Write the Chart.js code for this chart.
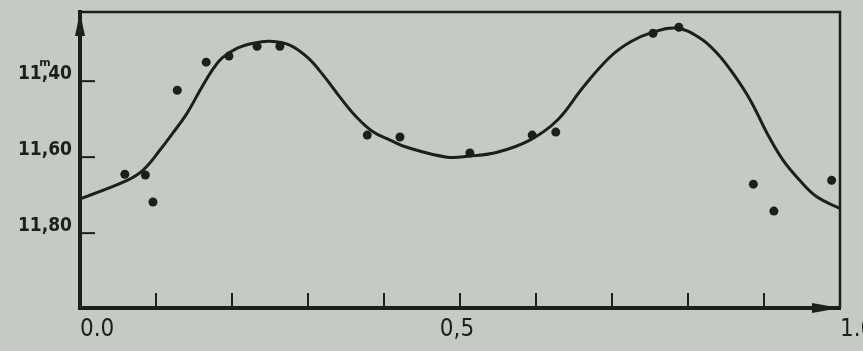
<!DOCTYPE html>
<html>
<head>
<meta charset="utf-8">
<script src="https://cdn.jsdelivr.net/npm/chart.js@4.4.1/dist/chart.umd.min.js"></script>
<style>
  html, body { margin: 0; padding: 0; background: #c4cbc4; }
  #wrap { width: 863px; height: 351px; }
</style>
</head>
<body>
<div id="wrap"><canvas id="lightCurve"></canvas></div>
<script>
// observed points (phase, magnitude)
const obsPhase = [0.059, 0.086, 0.096, 0.128, 0.166, 0.196, 0.233, 0.263, 0.378,
                  0.421, 0.513, 0.595, 0.626, 0.754, 0.788, 0.886, 0.913, 0.989];
const obsMag   = [11.645, 11.647, 11.718, 11.424, 11.350, 11.334, 11.308, 11.308, 11.542,
                  11.547, 11.589, 11.542, 11.534, 11.274, 11.258, 11.671, 11.742, 11.661];

// mean light curve drawn through the points
const curvePhase = [0.000, 0.062, 0.083, 0.105, 0.122, 0.141, 0.158, 0.174, 0.187, 0.207,
                    0.228, 0.250, 0.276, 0.299, 0.320, 0.342, 0.364, 0.386, 0.408, 0.430,
                    0.483, 0.513, 0.549, 0.592, 0.628, 0.662, 0.697, 0.724, 0.754, 0.786,
                    0.816, 0.838, 0.859, 0.882, 0.904, 0.925, 0.947, 0.970, 1.000];
const curveMag   = [11.710, 11.661, 11.634, 11.582, 11.537, 11.484, 11.424, 11.371, 11.339, 11.313,
                    11.300, 11.295, 11.305, 11.337, 11.384, 11.442, 11.495, 11.534, 11.555, 11.574,
                    11.600, 11.597, 11.587, 11.555, 11.503, 11.416, 11.337, 11.297, 11.271, 11.261,
                    11.287, 11.326, 11.379, 11.450, 11.537, 11.608, 11.661, 11.705, 11.735];

const yTickValues = [11.4, 11.6, 11.8];
const xLabelValues = [0, 0.5, 1.0];
const xLabels = ['0.0', '0,5', '1.0'];

const INK = '#1c1f1e';

// frame, inward ticks, arrows and the x labels
const paperPlugin = {
  id: 'paper',
  afterDraw(chart) {
    const { ctx, chartArea: a, scales: { x, y } } = chart;
    ctx.save();
    ctx.strokeStyle = INK;
    ctx.fillStyle = INK;

    // top and right border
    ctx.lineWidth = 2.5;
    ctx.beginPath();
    ctx.moveTo(a.left, a.top);
    ctx.lineTo(a.right, a.top);
    ctx.lineTo(a.right, a.bottom);
    ctx.stroke();

    // x ticks pointing up
    ctx.lineWidth = 2;
    x.ticks.forEach(t => {
      if (t.value <= 0.001 || t.value >= 0.999) return;
      const px = x.getPixelForValue(t.value);
      ctx.beginPath();
      ctx.moveTo(px, a.bottom);
      ctx.lineTo(px, a.bottom - 15);
      ctx.stroke();
    });
    // y ticks pointing right
    yTickValues.forEach(v => {
      const py = y.getPixelForValue(v);
      ctx.beginPath();
      ctx.moveTo(a.left, py);
      ctx.lineTo(a.left + 15, py);
      ctx.stroke();
    });

    // arrow heads
    ctx.beginPath();
    ctx.moveTo(a.left, a.top);
    ctx.lineTo(a.left - 5, a.top + 24);
    ctx.lineTo(a.left + 5, a.top + 24);
    ctx.closePath();
    ctx.fill();
    ctx.beginPath();
    ctx.moveTo(a.right, a.bottom);
    ctx.lineTo(a.right - 28, a.bottom - 5);
    ctx.lineTo(a.right - 28, a.bottom + 5);
    ctx.closePath();
    ctx.fill();

    // x labels
    ctx.font = '24px "DejaVu Sans Condensed", "DejaVu Sans", sans-serif';
    ctx.textBaseline = 'middle';
    xLabels.forEach((lab, i) => {
      ctx.textAlign = (i === 1) ? 'center' : 'left';
      const px = x.getPixelForValue(xLabelValues[i]) + (i === 1 ? -3 : 0);
      ctx.fillText(lab, px, a.bottom + 22);
    });

    // magnitude mark above the first label's comma
    ctx.font = 'bold 19px "DejaVu Sans Condensed", "DejaVu Sans", sans-serif';
    const right = a.left - 8;
    const cx = right - ctx.measureText('40').width - ctx.measureText(',').width / 2;
    const cy = y.getPixelForValue(yTickValues[0]) - 7 - 11;
    ctx.font = 'bold 11px "DejaVu Sans", sans-serif';
    ctx.textAlign = 'center';
    ctx.fillText('m', cx, cy);
    ctx.restore();
  }
};

new Chart(document.getElementById('lightCurve'), {
  type: 'scatter',
  data: {
    datasets: [
      {
        label: 'curve',
        data: curvePhase.map((p, i) => ({ x: p, y: curveMag[i] })),
        showLine: true,
        borderColor: INK,
        borderWidth: 3,
        pointRadius: 0,
        tension: 0.4,
      },
      {
        label: 'observations',
        data: obsPhase.map((p, i) => ({ x: p, y: obsMag[i] })),
        backgroundColor: INK,
        borderColor: INK,
        pointRadius: 4.5,
        pointBorderWidth: 0,
      },
    ],
  },
  options: {
    responsive: true,
    maintainAspectRatio: false,
    animation: false,
    layout: { padding: { top: 12, right: 23, left: 0, bottom: 0 } },
    plugins: { legend: { display: false }, tooltip: { enabled: false } },
    scales: {
      x: {
        type: 'linear',
        min: 0, max: 1,
        ticks: { stepSize: 0.1, display: false },
        grid: { display: false, drawTicks: false },
        border: { display: true, color: INK, width: 4 },
        afterFit(scale) { scale.height = 43; },
      },
      y: {
        type: 'linear',
        reverse: true,
        min: 11.218, max: 11.997,
        afterBuildTicks(scale) { scale.ticks = yTickValues.map(v => ({ value: v })); },
        ticks: {
          padding: 8,
          labelOffset: -7,
          color: INK,
          font: { family: '"DejaVu Sans Condensed", "DejaVu Sans", sans-serif', size: 19, weight: 'bold' },
          callback: v => v.toFixed(2).replace('.', ','),
        },
        grid: { display: false, drawTicks: false },
        border: { display: true, color: INK, width: 4 },
        afterFit(scale) {
          scale.width = 80;
          scale.paddingTop = 0;
          scale.paddingBottom = 0;
        },
      },
    },
  },
  plugins: [paperPlugin],
});
</script>
</body>
</html>
